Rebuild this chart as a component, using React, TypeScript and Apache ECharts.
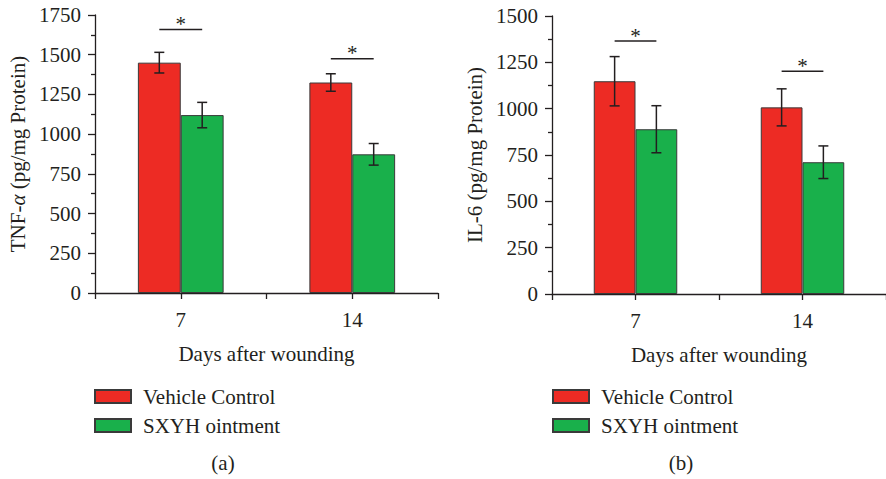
import React, { useEffect, useRef } from "react";
import * as echarts from "echarts";

const categories = ["7", "14"];
const seriesNames = ["Vehicle Control", "SXYH ointment"];

// Panel (a): TNF-α
const tnfVehicle = [1450, 1325];
const tnfVehicleErr = [65, 55];
const tnfSxyh = [1120, 873];
const tnfSxyhErr = [80, 68];
const tnfSig = [1658, 1475];

// Panel (b): IL-6
const il6Vehicle = [1148, 1007];
const il6VehicleErr = [133, 100];
const il6Sxyh = [889, 711];
const il6SxyhErr = [127, 88];
const il6Sig = [1365, 1202];

const tnfTicks = { min: 0, max: 1750, interval: 250 };
const il6Ticks = { min: 0, max: 1500, interval: 250 };

const FONT = "'Liberation Serif', 'DejaVu Serif', serif";
const FS = 21;
const INK = "#231f20";
const RED = "#ED2B24";
const GREEN = "#19B04B";

function errorSeries(grid: number, means: number[], errs: number[], sign: number) {
  return {
    type: "custom",
    xAxisIndex: grid * 2,
    yAxisIndex: grid,
    z: 10,
    silent: true,
    data: means.map((m, i) => [i, m - errs[i], m + errs[i]]),
    renderItem: (params: any, api: any) => {
      const i = api.value(0);
      const lo = api.coord([i, api.value(1)]);
      const hi = api.coord([i, api.value(2)]);
      const band = api.size([1, 0])[0];
      const x = lo[0] + sign * band * 0.125;
      const cap = 5;
      const st = { stroke: INK, lineWidth: 1.5 };
      return {
        type: "group",
        children: [
          { type: "line", shape: { x1: x, y1: lo[1], x2: x, y2: hi[1] }, style: st },
          { type: "line", shape: { x1: x - cap, y1: lo[1], x2: x + cap, y2: lo[1] }, style: st },
          { type: "line", shape: { x1: x - cap, y1: hi[1], x2: x + cap, y2: hi[1] }, style: st },
        ],
      };
    },
  };
}

function sigSeries(grid: number, levels: number[]) {
  return {
    type: "custom",
    xAxisIndex: grid * 2,
    yAxisIndex: grid,
    z: 10,
    silent: true,
    data: levels.map((v, i) => [i, v]),
    renderItem: (params: any, api: any) => {
      const p = api.coord([api.value(0), api.value(1)]);
      const band = api.size([1, 0])[0];
      const half = band * 0.125;
      return {
        type: "group",
        children: [
          {
            type: "line",
            shape: { x1: p[0] - half, y1: p[1], x2: p[0] + half, y2: p[1] },
            style: { stroke: INK, lineWidth: 1.5 },
          },
          {
            type: "text",
            x: p[0],
            y: p[1] + 5,
            style: {
              text: "*",
              fontFamily: FONT,
              fontSize: 21,
              fill: INK,
              textAlign: "center",
              textVerticalAlign: "bottom",
            },
          },
        ],
      };
    },
  };
}

function barSeries(grid: number, name: string, values: number[], color: string) {
  return {
    type: "bar",
    name,
    xAxisIndex: grid * 2,
    yAxisIndex: grid,
    data: values,
    barWidth: "25%",
    barGap: "0%",
    itemStyle: { color, borderColor: "#3a3a3a", borderWidth: 1 },
  };
}

function xAxes(grid: number) {
  const common = {
    type: "category",
    gridIndex: grid,
    data: categories,
    position: "bottom",
  };
  return [
    {
      ...common,
      name: "Days after wounding",
      nameLocation: "middle",
      nameGap: 50,
      nameTextStyle: { fontFamily: FONT, fontSize: FS, color: INK },
      axisLine: { lineStyle: { color: INK, width: 1.3 } },
      axisTick: { show: true, length: 6, lineStyle: { color: INK, width: 1.3 } },
      axisLabel: { fontFamily: FONT, fontSize: FS, color: INK, margin: 16 },
      splitLine: { show: false },
    },
    {
      ...common,
      axisLine: { show: false },
      axisTick: { show: true, alignWithLabel: true, length: 6, lineStyle: { color: INK, width: 1.3 } },
      axisLabel: { show: false },
      splitLine: { show: false },
    },
  ];
}

function yAxis(grid: number, nameText: string, rich: any, ticks: any) {
  return {
    type: "value",
    gridIndex: grid,
    min: ticks.min,
    max: ticks.max,
    interval: ticks.interval,
    name: nameText,
    nameLocation: "middle",
    nameGap: 67,
    nameTextStyle: { fontFamily: FONT, fontSize: FS, color: INK, rich },
    axisLine: { show: true, lineStyle: { color: INK, width: 1.3 } },
    axisTick: { show: true, length: 7, lineStyle: { color: INK, width: 1.3 } },
    minorTick: { show: true, splitNumber: 2, length: 4, lineStyle: { color: INK, width: 1.3 } },
    axisLabel: {
      fontFamily: FONT,
      fontSize: FS,
      color: INK,
      margin: 14,
      formatter: (v: number) => String(v),
    },
    splitLine: { show: false },
  };
}

function legend(left: number) {
  return {
    left,
    top: 381,
    orient: "vertical",
    icon: "rect",
    itemWidth: 36,
    itemHeight: 13,
    itemGap: 8,
    selectedMode: false,
    data: seriesNames,
    textStyle: { fontFamily: FONT, fontSize: FS, color: INK, lineHeight: 21, padding: [0, 0, 0, 7] },
  };
}

export default function App() {
  const ref = useRef<HTMLDivElement>(null);
  useEffect(() => {
    if (!ref.current) return;
    const chart = echarts.init(ref.current, undefined, { renderer: "svg" });
    const italic = { i: { fontFamily: FONT, fontSize: FS, color: INK, fontStyle: "italic" } };
    chart.setOption({
      animation: false,
      backgroundColor: "#ffffff",
      grid: [
        { left: 95, top: 15, width: 343, height: 278 },
        { left: 552, top: 16, width: 343, height: 278 },
      ],
      xAxis: [...xAxes(0), ...xAxes(1)],
      yAxis: [
        yAxis(0, "TNF-{i|α} (pg/mg Protein)", italic, tnfTicks),
        yAxis(1, "IL-6 (pg/mg Protein)", italic, il6Ticks),
      ],
      legend: [legend(89), legend(547)],
      series: [
        barSeries(0, seriesNames[0], tnfVehicle, RED),
        barSeries(0, seriesNames[1], tnfSxyh, GREEN),
        errorSeries(0, tnfVehicle, tnfVehicleErr, -1),
        errorSeries(0, tnfSxyh, tnfSxyhErr, 1),
        sigSeries(0, tnfSig),
        barSeries(1, seriesNames[0], il6Vehicle, RED),
        barSeries(1, seriesNames[1], il6Sxyh, GREEN),
        errorSeries(1, il6Vehicle, il6VehicleErr, -1),
        errorSeries(1, il6Sxyh, il6SxyhErr, 1),
        sigSeries(1, il6Sig),
      ],
      graphic: [
        {
          type: "text",
          x: 223,
          y: 463,
          style: { text: "(a)", fontFamily: FONT, fontSize: FS, fill: INK, textAlign: "center", textVerticalAlign: "middle" },
        },
        {
          type: "text",
          x: 681,
          y: 463,
          style: { text: "(b)", fontFamily: FONT, fontSize: FS, fill: INK, textAlign: "center", textVerticalAlign: "middle" },
        },
      ],
    });
    return () => chart.dispose();
  }, []);
  return (
    <div
      ref={ref}
      style={{ position: "fixed", left: 0, top: 0, width: 886, height: 479, background: "#fff" }}
    />
  );
}
